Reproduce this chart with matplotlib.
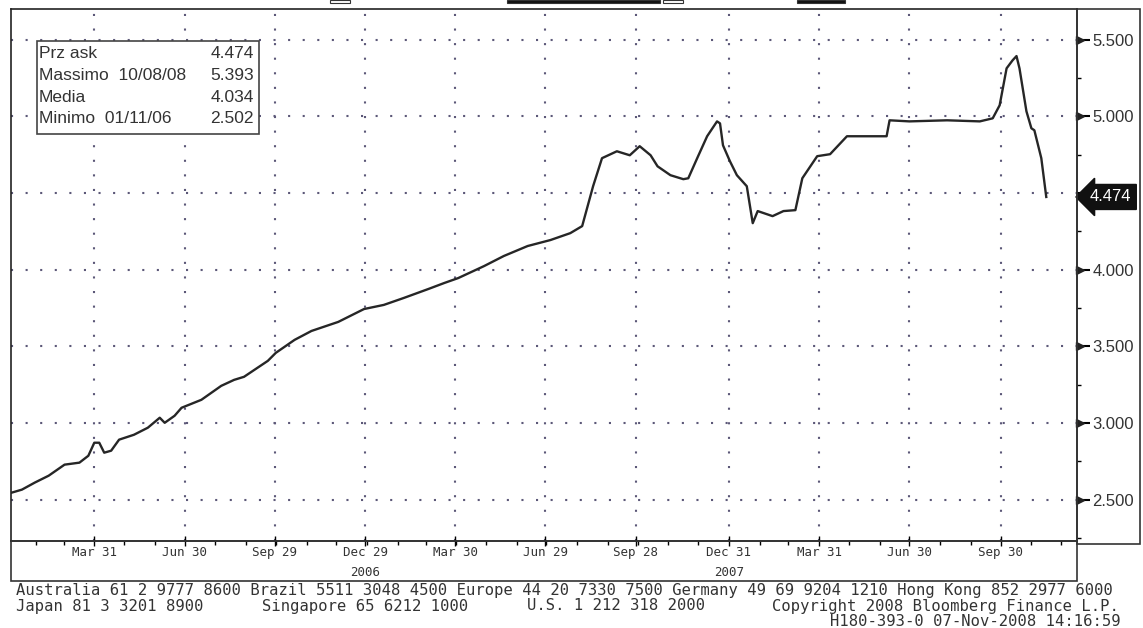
import numpy as np
import matplotlib
matplotlib.use('Agg')
import matplotlib.pyplot as plt
import matplotlib.dates as mdates
from matplotlib.patches import Rectangle
from matplotlib.transforms import blended_transform_factory
from datetime import datetime

W, H = 1143, 628

# price series
dates = ['2006-01-07', '2006-01-17', '2006-01-30', '2006-02-13', '2006-03-01',
         '2006-03-16', '2006-03-25', '2006-03-31', '2006-04-05', '2006-04-10',
         '2006-04-17', '2006-04-25', '2006-05-10', '2006-05-24', '2006-06-05',
         '2006-06-10', '2006-06-20', '2006-06-27', '2006-07-17', '2006-08-06',
         '2006-08-19', '2006-08-29', '2006-09-22', '2006-09-30', '2006-10-19',
         '2006-11-05', '2006-12-02', '2006-12-28', '2007-01-17', '2007-02-06',
         '2007-03-03', '2007-03-19', '2007-04-02', '2007-04-28', '2007-05-18',
         '2007-06-11', '2007-07-04', '2007-07-24', '2007-08-05', '2007-08-16',
         '2007-08-25', '2007-09-09', '2007-09-22', '2007-10-02', '2007-10-13',
         '2007-10-20', '2007-11-02', '2007-11-15', '2007-11-20', '2007-11-29',
         '2007-12-09', '2007-12-19', '2007-12-22', '2007-12-25', '2008-01-01',
         '2008-01-08', '2008-01-18', '2008-01-24', '2008-01-29', '2008-02-13',
         '2008-02-24', '2008-03-07', '2008-03-14', '2008-03-29', '2008-04-11',
         '2008-04-28', '2008-06-07', '2008-06-10', '2008-06-30', '2008-08-07',
         '2008-09-09', '2008-09-22', '2008-09-29', '2008-10-06', '2008-10-12',
         '2008-10-16', '2008-10-19', '2008-10-26', '2008-10-31', '2008-11-03',
         '2008-11-10', '2008-11-15']
prices = [2.546, 2.565, 2.611, 2.656, 2.728,
          2.741, 2.786, 2.871, 2.871, 2.806,
          2.819, 2.891, 2.923, 2.969, 3.034,
          3.001, 3.047, 3.099, 3.151, 3.242,
          3.281, 3.301, 3.405, 3.457, 3.542,
          3.600, 3.659, 3.743, 3.770, 3.815,
          3.874, 3.913, 3.945, 4.023, 4.089,
          4.154, 4.193, 4.238, 4.284, 4.544,
          4.727, 4.772, 4.746, 4.805, 4.746,
          4.674, 4.616, 4.590, 4.596, 4.727,
          4.870, 4.967, 4.954, 4.811, 4.707,
          4.616, 4.544, 4.303, 4.382, 4.349,
          4.382, 4.388, 4.596, 4.740, 4.753,
          4.870, 4.870, 4.974, 4.967, 4.974,
          4.967, 4.987, 5.072, 5.313, 5.365,
          5.393, 5.313, 5.033, 4.922, 4.909,
          4.727, 4.474]

tick_dates = ['2006-03-31', '2006-06-30', '2006-09-29', '2006-12-29', '2007-03-30',
              '2007-06-29', '2007-09-28', '2007-12-31', '2008-03-31', '2008-06-30',
              '2008-09-30']
tick_labels = ['Mar 31', 'Jun 30', 'Sep 29', 'Dec 29', 'Mar 30', 'Jun 29',
               'Sep 28', 'Dec 31', 'Mar 31', 'Jun 30', 'Sep 30']
year_dates = ['2006-12-29', '2007-12-31']
year_labels = ['2006', '2007']
y_ticks = [2.5, 3.0, 3.5, 4.0, 4.5, 5.0, 5.5]
y_labels = ['2.500', '3.000', '3.500', '4.000', '', '5.000', '5.500']

stats_names = ['Prz ask', 'Massimo  10/08/08', 'Media', 'Minimo  01/11/06']
stats_values = ['4.474', '5.393', '4.034', '2.502']
last_price = 4.474

footer1 = ('Australia 61 2 9777 8600 Brazil 5511 3048 4500 Europe 44 20 7330 7500 '
           'Germany 49 69 9204 1210 Hong Kong 852 2977 6000')
footer2 = [(16, 'Japan 81 3 3201 8900'), (262, 'Singapore 65 6212 1000'),
           (527, 'U.S. 1 212 318 2000'), (772, 'Copyright 2008 Bloomberg Finance L.P.')]
footer3 = 'H180-393-0 07-Nov-2008 14:16:59'

narrow = ['Liberation Sans Narrow', 'Liberation Sans', 'DejaVu Sans']
mono = ['DejaVu Sans Mono']


def fx(x):
    return x / W


def fy(y):
    return 1 - y / H


x = [datetime.strptime(d, '%Y-%m-%d') for d in dates]
xt = [datetime.strptime(d, '%Y-%m-%d') for d in tick_dates]
xy = [datetime.strptime(d, '%Y-%m-%d') for d in year_dates]

fig = plt.figure(figsize=(W / 100, H / 100), dpi=100)
fig.patch.set_facecolor('white')
left, right, top, bottom = 11, 1077, 9, 541
ax = fig.add_axes([fx(left), fy(bottom), fx(right - left), (bottom - top) / H])

ax.plot(x, prices, color='#262626', lw=1.7, zorder=3)

ax.set_xlim(datetime(2006, 1, 6), datetime(2008, 12, 16))
ax.set_ylim(2.23, 5.70)

grid_col = '#5c5878'
for d in xt:
    ax.axvline(d, color=grid_col, lw=1.5, linestyle=(0, (1, 6)), zorder=1)
for v in y_ticks:
    ax.axhline(v, color=grid_col, lw=1.5, linestyle=(0, (1, 6)), zorder=1)

# x axis
ax.set_xticks(xt)
ax.set_xticklabels(tick_labels, family=mono, fontsize=9, color='#333333')
ax.xaxis.set_minor_locator(mdates.MonthLocator(bymonthday=-1))
ax.tick_params(axis='x', which='major', direction='inout', length=7, width=1, pad=0)
ax.tick_params(axis='x', which='minor', direction='out', length=3, width=1)
trans = blended_transform_factory(ax.transData, ax.transAxes)
for d, lab in zip(xy, year_labels):
    ax.text(d, -(572 - bottom) / (bottom - top), lab, transform=trans, ha='center',
            va='center', family=mono, fontsize=9, color='#333333')

# y axis on the right
ax.yaxis.tick_right()
ax.set_yticks(y_ticks)
ax.set_yticklabels(y_labels, family=narrow, fontsize=12, color='#333333')
ax.set_yticks(np.arange(2.25, 5.75, 0.25), minor=True)
ax.tick_params(axis='y', which='major', direction='out', length=9, width=1.5, pad=2)
ax.tick_params(axis='y', which='minor', direction='out', length=3, width=1)
ytr = blended_transform_factory(ax.transAxes, ax.transData)
ax.plot([1.003] * 6, [v for v in y_ticks if v != 4.5], ls='none', marker='>',
        ms=6, color='#222222', transform=ytr, clip_on=False)

for s in ax.spines.values():
    s.set_color('#222222')
    s.set_linewidth(1.2)

# last price tag
ax.text(1.012, last_price, '4.474', transform=ytr, ha='left', va='center',
        family=narrow, fontsize=12, color='white',
        bbox=dict(boxstyle='larrow,pad=0.3', fc='#111111', ec='#111111'))

# stats box
ax.add_artist(Rectangle((fx(37), fy(134)), fx(259 - 37), (134 - 41) / H,
                        transform=fig.transFigure, fill=True, fc='white',
                        ec='#444444', lw=1.2, zorder=5))
rows_y = [53, 75, 97, 118]
for ry, name, val in zip(rows_y, stats_names, stats_values):
    fig.text(fx(39), fy(ry), name, ha='left', va='center', family=narrow,
             fontsize=12.5, color='#333333', zorder=6)
    fig.text(fx(254), fy(ry), val, ha='right', va='center', family=narrow,
             fontsize=12.5, color='#333333', zorder=6)

# frames around label areas
fig.add_artist(Rectangle((fx(left), fy(581)), fx(right - left), (581 - bottom) / H,
                         transform=fig.transFigure, fill=False, ec='#333333', lw=1.2))
fig.add_artist(Rectangle((fx(right), fy(544)), fx(1140 - right), (544 - top) / H,
                         transform=fig.transFigure, fill=False, ec='#333333', lw=1.2))

# cut-off header bits
for x0, x1, col in [(330, 350, 'white'), (507, 660, '#111111'), (663, 683, 'white'),
                    (797, 845, '#111111')]:
    fig.add_artist(Rectangle((fx(x0), fy(3)), fx(x1 - x0), 3 / H,
                             transform=fig.transFigure, fc=col, ec='#333333', lw=0.8))

# footer
fig.text(fx(16), fy(590), footer1, ha='left', va='center', family=mono,
         fontsize=11.2, color='#333333')
for px, txt in footer2:
    fig.text(fx(px), fy(606), txt, ha='left', va='center', family=mono,
             fontsize=11.2, color='#333333')
fig.text(fx(1121), fy(621), footer3, ha='right', va='center', family=mono,
         fontsize=11.2, color='#333333')

fig.savefig('out.png', dpi=100)
